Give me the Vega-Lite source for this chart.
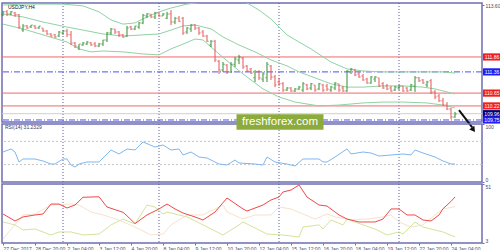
{
"$schema":"https://vega.github.io/schema/vega-lite/v6.json",
"background":"white",
"padding":{"left":0,"top":1,"right":0,"bottom":0},
"spacing":2,
"bounds":"flush",
"config":{"view":{"stroke":"#6e6eb4","strokeWidth":1.5},"font":"Liberation Sans",
 "axis":{"title":null,"grid":false,"domain":false,"tickSize":2,"tickColor":"#6e6eb4","labelFontSize":5,"labelColor":"#4a4a6a","labelPadding":1},
 "axisX":{"labelOverlap":false,"labelBound":false,"labelSeparation":0}},
"datasets":{
"one":[{"n":1}],
"bars":[
{"i":0,"o":113.27,"h":113.40,"l":113.23,"c":113.37},{"i":1,"o":113.37,"h":113.43,"l":113.23,"c":113.30},{"i":2,"o":113.30,"h":113.40,"l":113.26,"c":113.37},{"i":3,"o":113.33,"h":113.37,"l":113.20,"c":113.27},{"i":4,"o":113.27,"h":113.30,"l":112.80,"c":112.86},{"i":5,"o":112.76,"h":112.96,"l":112.70,"c":112.90},{"i":6,"o":112.90,"h":112.93,"l":112.80,"c":112.83},{"i":7,"o":112.86,"h":112.93,"l":112.83,"c":112.93},{"i":8,"o":112.90,"h":112.93,"l":112.80,"c":112.83},{"i":9,"o":112.83,"h":112.90,"l":112.80,"c":112.90},
{"i":10,"o":112.83,"h":112.83,"l":112.70,"c":112.73},{"i":11,"o":112.73,"h":112.76,"l":112.60,"c":112.63},{"i":12,"o":112.63,"h":112.66,"l":112.53,"c":112.56},{"i":13,"o":112.60,"h":112.63,"l":112.50,"c":112.53},{"i":14,"o":112.56,"h":112.73,"l":112.53,"c":112.70},{"i":15,"o":112.66,"h":112.76,"l":112.60,"c":112.73},{"i":16,"o":112.73,"h":112.80,"l":112.53,"c":112.60},{"i":17,"o":112.60,"h":112.73,"l":112.26,"c":112.33},{"i":18,"o":112.33,"h":112.36,"l":112.16,"c":112.23},{"i":19,"o":112.19,"h":112.29,"l":112.09,"c":112.29},
{"i":20,"o":112.26,"h":112.36,"l":112.23,"c":112.33},{"i":21,"o":112.29,"h":112.39,"l":112.26,"c":112.36},{"i":22,"o":112.33,"h":112.36,"l":112.23,"c":112.26},{"i":23,"o":112.29,"h":112.36,"l":112.19,"c":112.23},{"i":24,"o":112.23,"h":112.33,"l":112.19,"c":112.29},{"i":25,"o":112.29,"h":112.43,"l":112.23,"c":112.43},{"i":26,"o":112.43,"h":112.70,"l":112.36,"c":112.66},{"i":27,"o":112.66,"h":112.83,"l":112.60,"c":112.80},{"i":28,"o":112.80,"h":112.80,"l":112.63,"c":112.70},{"i":29,"o":112.70,"h":112.73,"l":112.53,"c":112.60},
{"i":30,"o":112.60,"h":112.63,"l":112.50,"c":112.53},{"i":31,"o":112.56,"h":112.90,"l":112.53,"c":112.83},{"i":32,"o":112.86,"h":112.90,"l":112.76,"c":112.80},{"i":33,"o":112.80,"h":112.90,"l":112.76,"c":112.90},{"i":34,"o":112.86,"h":113.03,"l":112.80,"c":113.00},{"i":35,"o":113.00,"h":113.30,"l":112.96,"c":113.26},{"i":36,"o":113.23,"h":113.33,"l":113.16,"c":113.30},{"i":37,"o":113.30,"h":113.30,"l":113.16,"c":113.20},{"i":38,"o":113.20,"h":113.37,"l":113.13,"c":113.33},{"i":39,"o":113.33,"h":113.33,"l":113.20,"c":113.23},
{"i":40,"o":113.23,"h":113.33,"l":113.23,"c":113.30},{"i":41,"o":113.16,"h":113.37,"l":113.13,"c":113.30},{"i":42,"o":113.30,"h":113.43,"l":112.93,"c":113.03},{"i":43,"o":113.03,"h":113.20,"l":112.96,"c":113.16},{"i":44,"o":113.16,"h":113.23,"l":113.03,"c":113.06},{"i":45,"o":113.16,"h":113.20,"l":112.60,"c":112.66},{"i":46,"o":112.70,"h":112.86,"l":112.63,"c":112.83},{"i":47,"o":112.80,"h":112.96,"l":112.70,"c":112.93},{"i":48,"o":112.93,"h":112.96,"l":112.76,"c":112.83},{"i":49,"o":112.83,"h":112.86,"l":112.60,"c":112.66},
{"i":50,"o":112.70,"h":112.76,"l":112.53,"c":112.56},{"i":51,"o":112.56,"h":112.60,"l":112.36,"c":112.39},{"i":52,"o":112.26,"h":112.43,"l":112.19,"c":112.39},{"i":53,"o":112.39,"h":112.43,"l":111.69,"c":111.76},{"i":54,"o":111.72,"h":111.76,"l":111.29,"c":111.42},{"i":55,"o":111.42,"h":111.69,"l":111.36,"c":111.62},{"i":56,"o":111.59,"h":111.62,"l":111.29,"c":111.36},{"i":57,"o":111.36,"h":111.69,"l":111.32,"c":111.62},{"i":58,"o":111.62,"h":111.86,"l":111.52,"c":111.79},{"i":59,"o":111.76,"h":111.93,"l":111.62,"c":111.86},
{"i":60,"o":111.82,"h":111.86,"l":111.46,"c":111.52},{"i":61,"o":111.56,"h":111.59,"l":111.36,"c":111.39},{"i":62,"o":111.46,"h":111.49,"l":111.29,"c":111.32},{"i":63,"o":111.16,"h":111.42,"l":111.02,"c":111.36},{"i":64,"o":111.36,"h":111.42,"l":111.09,"c":111.16},{"i":65,"o":111.12,"h":111.36,"l":111.02,"c":111.29},{"i":66,"o":111.16,"h":111.69,"l":111.02,"c":111.62},{"i":67,"o":111.56,"h":111.59,"l":111.09,"c":111.19},{"i":68,"o":111.19,"h":111.26,"l":110.85,"c":110.92},{"i":69,"o":111.02,"h":111.16,"l":110.89,"c":110.96},
{"i":70,"o":110.96,"h":111.02,"l":110.69,"c":110.75},{"i":71,"o":110.75,"h":110.85,"l":110.72,"c":110.82},{"i":72,"o":110.82,"h":110.85,"l":110.69,"c":110.72},{"i":73,"o":110.72,"h":110.82,"l":110.69,"c":110.79},{"i":74,"o":110.79,"h":110.89,"l":110.75,"c":110.85},{"i":75,"o":110.75,"h":111.02,"l":110.69,"c":110.96},{"i":76,"o":110.92,"h":110.96,"l":110.75,"c":110.79},{"i":77,"o":110.82,"h":110.99,"l":110.75,"c":110.96},{"i":78,"o":110.92,"h":110.92,"l":110.69,"c":110.75},{"i":79,"o":110.79,"h":110.99,"l":110.75,"c":110.96},
{"i":80,"o":110.92,"h":110.96,"l":110.69,"c":110.75},{"i":81,"o":110.89,"h":110.96,"l":110.72,"c":110.79},{"i":82,"o":110.75,"h":110.89,"l":110.69,"c":110.85},{"i":83,"o":110.82,"h":111.02,"l":110.75,"c":110.99},{"i":84,"o":110.96,"h":110.96,"l":110.69,"c":110.75},{"i":85,"o":110.82,"h":110.89,"l":110.69,"c":110.72},{"i":86,"o":110.72,"h":111.42,"l":110.69,"c":111.39},{"i":87,"o":111.36,"h":111.49,"l":111.29,"c":111.46},{"i":88,"o":111.42,"h":111.46,"l":111.22,"c":111.26},{"i":89,"o":111.29,"h":111.36,"l":111.16,"c":111.19},
{"i":90,"o":111.22,"h":111.29,"l":111.06,"c":111.09},{"i":91,"o":111.12,"h":111.16,"l":110.96,"c":110.99},{"i":92,"o":110.99,"h":111.22,"l":110.96,"c":111.19},{"i":93,"o":111.12,"h":111.22,"l":111.02,"c":111.19},{"i":94,"o":111.16,"h":111.16,"l":110.85,"c":110.89},{"i":95,"o":110.96,"h":111.02,"l":110.79,"c":110.82},{"i":96,"o":110.89,"h":110.96,"l":110.75,"c":110.79},{"i":97,"o":110.82,"h":110.89,"l":110.69,"c":110.72},{"i":98,"o":110.75,"h":110.89,"l":110.72,"c":110.85},{"i":99,"o":110.82,"h":110.92,"l":110.75,"c":110.89},
{"i":100,"o":110.89,"h":110.89,"l":110.69,"c":110.72},{"i":101,"o":110.82,"h":110.85,"l":110.69,"c":110.72},{"i":102,"o":110.75,"h":110.96,"l":110.72,"c":110.92},{"i":103,"o":110.89,"h":111.22,"l":110.69,"c":111.16},{"i":104,"o":111.16,"h":111.19,"l":111.02,"c":111.06},{"i":105,"o":111.09,"h":111.12,"l":110.96,"c":110.99},{"i":106,"o":110.92,"h":111.06,"l":110.85,"c":111.02},{"i":107,"o":111.06,"h":111.12,"l":110.62,"c":110.69},{"i":108,"o":110.69,"h":110.75,"l":110.45,"c":110.52},{"i":109,"o":110.55,"h":110.62,"l":110.35,"c":110.39},
{"i":110,"o":110.39,"h":110.49,"l":110.22,"c":110.25},{"i":111,"o":110.25,"h":110.35,"l":110.08,"c":110.12},{"i":112,"o":110.12,"h":110.15,"l":109.78,"c":109.85},{"i":113,"o":109.85,"h":110.02,"l":109.82,"c":109.95}
],
"bb":[
{"b":"up","i":0,"p":113.60},{"b":"up","i":5,"p":113.63},{"b":"up","i":10,"p":113.63},{"b":"up","i":15,"p":113.63},{"b":"up","i":20,"p":113.57},{"b":"up","i":24,"p":113.37},{"b":"up","i":27,"p":113.10},{"b":"up","i":30,"p":112.96},{"b":"up","i":33,"p":113.00},{"b":"up","i":36,"p":113.20},{"b":"up","i":39,"p":113.37},{"b":"up","i":42,"p":113.50},{"b":"up","i":46,"p":113.63},{"b":"up","i":50,"p":113.70},{"b":"up","i":53,"p":113.77},{"b":"up","i":56,"p":113.83},{"b":"up","i":59,"p":113.77},{"b":"up","i":61,"p":113.67},{"b":"up","i":64,"p":113.43},{"b":"up","i":67,"p":113.13},{"b":"up","i":71,"p":112.60},{"b":"up","i":74,"p":112.36},{"b":"up","i":77,"p":112.13},{"b":"up","i":82,"p":111.69},{"b":"up","i":86,"p":111.46},{"b":"up","i":90,"p":111.39},{"b":"up","i":95,"p":111.36},{"b":"up","i":100,"p":111.36},{"b":"up","i":105,"p":111.36},{"b":"up","i":110,"p":111.36},{"b":"up","i":113,"p":111.32},
{"b":"mid","i":0,"p":113.30},{"b":"mid","i":5,"p":113.20},{"b":"mid","i":10,"p":113.03},{"b":"mid","i":16,"p":112.86},{"b":"mid","i":20,"p":112.76},{"b":"mid","i":25,"p":112.63},{"b":"mid","i":30,"p":112.56},{"b":"mid","i":35,"p":112.60},{"b":"mid","i":39,"p":112.63},{"b":"mid","i":42,"p":112.76},{"b":"mid","i":45,"p":112.90},{"b":"mid","i":48,"p":112.93},{"b":"mid","i":52,"p":112.80},{"b":"mid","i":55,"p":112.53},{"b":"mid","i":59,"p":112.26},{"b":"mid","i":63,"p":112.03},{"b":"mid","i":67,"p":111.76},{"b":"mid","i":71,"p":111.56},{"b":"mid","i":74,"p":111.36},{"b":"mid","i":78,"p":111.16},{"b":"mid","i":82,"p":110.96},{"b":"mid","i":86,"p":110.85},{"b":"mid","i":90,"p":110.85},{"b":"mid","i":95,"p":110.89},{"b":"mid","i":100,"p":110.89},{"b":"mid","i":105,"p":110.85},{"b":"mid","i":108,"p":110.79},{"b":"mid","i":113,"p":110.62},
{"b":"lo","i":0,"p":112.96},{"b":"lo","i":5,"p":112.80},{"b":"lo","i":10,"p":112.60},{"b":"lo","i":16,"p":112.36},{"b":"lo","i":19,"p":112.13},{"b":"lo","i":22,"p":112.03},{"b":"lo","i":25,"p":112.06},{"b":"lo","i":30,"p":112.03},{"b":"lo","i":35,"p":111.96},{"b":"lo","i":39,"p":111.93},{"b":"lo","i":42,"p":112.13},{"b":"lo","i":45,"p":112.29},{"b":"lo","i":48,"p":112.46},{"b":"lo","i":50,"p":112.43},{"b":"lo","i":54,"p":111.96},{"b":"lo","i":57,"p":111.62},{"b":"lo","i":60,"p":111.29},{"b":"lo","i":65,"p":110.79},{"b":"lo","i":69,"p":110.52},{"b":"lo","i":73,"p":110.35},{"b":"lo","i":79,"p":110.22},{"b":"lo","i":84,"p":110.25},{"b":"lo","i":90,"p":110.32},{"b":"lo","i":95,"p":110.35},{"b":"lo","i":100,"p":110.35},{"b":"lo","i":106,"p":110.32},{"b":"lo","i":110,"p":110.25},{"b":"lo","i":113,"p":110.15}
],
"levels":[{"p":111.86,"k":"red"},{"p":111.36,"k":"blue"},{"p":110.65,"k":"red"},{"p":110.22,"k":"red"},{"p":109.96,"k":"bid"},{"p":109.75,"k":"blue"}],
"seps":[{"i":15},{"i":39},{"i":69},{"i":99}],
"arrow":[{"i":114.0,"p":110.08},{"i":117.3,"p":109.5}],
"arrowhead":[{"i":117.6,"p":109.42}],
"rsilev":[{"v":70},{"v":30}],
"rsi":[{"i":0,"v":51.7},{"i":2,"v":56.9},{"i":3,"v":51.7},{"i":4,"v":34.5},{"i":5,"v":39.7},{"i":8,"v":39.7},{"i":10,"v":36.2},{"i":12,"v":31.0},{"i":13,"v":31.0},{"i":15,"v":39.7},{"i":16,"v":39.7},{"i":17,"v":29.3},{"i":18,"v":25.9},{"i":19,"v":31.0},{"i":21,"v":34.5},{"i":24,"v":34.5},{"i":27,"v":55.2},{"i":29,"v":48.3},{"i":31,"v":56.9},{"i":33,"v":55.2},{"i":35,"v":69.0},{"i":38,"v":60.3},{"i":40,"v":63.8},{"i":42,"v":55.2},{"i":44,"v":56.9},{"i":45,"v":46.6},{"i":47,"v":51.7},{"i":49,"v":43.1},{"i":51,"v":41.4},{"i":52,"v":37.9},{"i":54,"v":31.0},{"i":56,"v":29.3},{"i":58,"v":37.9},{"i":59,"v":32.8},{"i":63,"v":31.0},{"i":65,"v":29.3},{"i":66,"v":43.1},{"i":68,"v":34.5},{"i":71,"v":31.0},{"i":73,"v":27.6},{"i":75,"v":39.7},{"i":79,"v":39.7},{"i":80,"v":34.5},{"i":81,"v":34.5},{"i":83,"v":43.1},{"i":86,"v":56.9},{"i":87,"v":48.3},{"i":90,"v":51.7},{"i":92,"v":50.0},{"i":94,"v":44.8},{"i":97,"v":46.6},{"i":100,"v":48.3},{"i":102,"v":46.6},{"i":103,"v":55.2},{"i":105,"v":50.0},{"i":108,"v":43.1},{"i":110,"v":36.2},{"i":112,"v":31.0},{"i":113,"v":31.2}],
"adx":[{"i":0,"v":26.6},{"i":3,"v":20.9},{"i":5,"v":24.2},{"i":8,"v":25.8},{"i":10,"v":26.6},{"i":12,"v":34.7},{"i":14,"v":34.7},{"i":16,"v":31.5},{"i":18,"v":33.9},{"i":20,"v":40.2},{"i":24,"v":40.6},{"i":26,"v":32.3},{"i":30,"v":28.0},{"i":31,"v":25.1},{"i":33,"v":18.8},{"i":36,"v":25.8},{"i":39,"v":30.7},{"i":41,"v":34.7},{"i":43,"v":30.7},{"i":45,"v":27.4},{"i":48,"v":24.2},{"i":50,"v":21.7},{"i":53,"v":28.2},{"i":56,"v":39.6},{"i":60,"v":30.7},{"i":61,"v":29.0},{"i":65,"v":33.9},{"i":67,"v":38.0},{"i":69,"v":40.4},{"i":70,"v":44.5},{"i":72,"v":46.1},{"i":74,"v":50.2},{"i":76,"v":40.4},{"i":79,"v":33.9},{"i":81,"v":33.1},{"i":84,"v":25.8},{"i":86,"v":22.5},{"i":89,"v":20.1},{"i":93,"v":20.1},{"i":95,"v":22.5},{"i":97,"v":30.7},{"i":99,"v":30.7},{"i":101,"v":25.8},{"i":103,"v":25.8},{"i":105,"v":21.7},{"i":107,"v":20.9},{"i":109,"v":25.8},{"i":110,"v":30.9},{"i":112,"v":36.8},{"i":113,"v":40.48}],
"pdi":[{"i":0,"v":20.1},{"i":3,"v":17.7},{"i":5,"v":13.6},{"i":8,"v":14.4},{"i":12,"v":9.5},{"i":14,"v":12.0},{"i":17,"v":12.0},{"i":20,"v":9.5},{"i":24,"v":10.3},{"i":27,"v":17.7},{"i":30,"v":22.5},{"i":33,"v":18.5},{"i":36,"v":33.9},{"i":38,"v":32.3},{"i":40,"v":26.6},{"i":41,"v":28.2},{"i":46,"v":24.2},{"i":50,"v":17.7},{"i":55,"v":9.5},{"i":59,"v":17.7},{"i":60,"v":20.1},{"i":64,"v":13.6},{"i":66,"v":10.3},{"i":70,"v":9.5},{"i":74,"v":7.9},{"i":75,"v":16.0},{"i":79,"v":17.7},{"i":80,"v":14.4},{"i":82,"v":21.7},{"i":85,"v":17.7},{"i":86,"v":22.5},{"i":90,"v":17.7},{"i":93,"v":14.4},{"i":96,"v":9.5},{"i":99,"v":12.0},{"i":100,"v":10.3},{"i":103,"v":20.1},{"i":105,"v":16.0},{"i":107,"v":14.4},{"i":110,"v":12.0},{"i":113,"v":7.9}],
"mdi":[{"i":0,"v":6.3},{"i":5,"v":25.8},{"i":8,"v":26.6},{"i":12,"v":33.9},{"i":17,"v":34.7},{"i":19,"v":33.9},{"i":22,"v":28.2},{"i":25,"v":25.8},{"i":29,"v":21.7},{"i":33,"v":16.0},{"i":37,"v":9.5},{"i":40,"v":10.3},{"i":42,"v":17.7},{"i":46,"v":25.8},{"i":50,"v":25.8},{"i":55,"v":33.9},{"i":56,"v":28.2},{"i":60,"v":22.5},{"i":63,"v":25.8},{"i":67,"v":25.8},{"i":69,"v":32.3},{"i":72,"v":30.7},{"i":75,"v":26.6},{"i":78,"v":22.5},{"i":81,"v":26.6},{"i":83,"v":24.2},{"i":87,"v":21.7},{"i":91,"v":22.5},{"i":95,"v":24.2},{"i":97,"v":25.8},{"i":99,"v":20.1},{"i":102,"v":16.0},{"i":105,"v":17.7},{"i":108,"v":25.8},{"i":110,"v":30.7},{"i":113,"v":32.5}]
},
"vconcat":[
{"width":480,"height":119,
 "layer":[
  {"data":{"name":"seps"},"mark":{"type":"rule","color":"#5c5ca8","strokeDash":[1,2],"strokeWidth":1},
   "encoding":{"x":{"field":"i","type":"quantitative","scale":{"domain":[-0.25,119.75],"nice":false,"zero":false},"axis":null}}},
  {"data":{"name":"levels"},"mark":{"type":"rule","strokeWidth":1},
   "encoding":{"y":{"field":"p","type":"quantitative","scale":{"domain":[109.682,113.667],"nice":false,"zero":false},
     "axis":{"orient":"right","values":[113.6,113.05,112.5,111.95,111.4,110.85,110.3,109.75],"format":".2f"}},
    "color":{"condition":[{"test":"datum.k==='red'","value":"#f06a6a"},{"test":"datum.k==='blue'","value":"#5050f0"}],"value":"#d0d0d0"},
    "strokeDash":{"condition":{"test":"datum.k==='blue'","value":[6,2,1,2]},"value":[1,0]}}},
  {"data":{"name":"bb"},"mark":{"type":"line","color":"#8fd3a4","strokeWidth":1,"clip":true},
   "encoding":{"x":{"field":"i","type":"quantitative","axis":null},
    "y":{"field":"p","type":"quantitative"},
    "detail":{"field":"b"}}},
  {"data":{"name":"bars"},"mark":{"type":"rule","strokeWidth":1},
   "encoding":{"x":{"field":"i","type":"quantitative","axis":null},
    "y":{"field":"l","type":"quantitative"},
    "y2":{"field":"h"},
    "color":{"condition":{"test":"datum.c>=datum.o","value":"#2f8f2f"},"value":"#e35555"}}},
  {"data":{"name":"bars"},"mark":{"type":"tick","orient":"horizontal","size":1.5,"thickness":1,"xOffset":-1},
   "encoding":{"x":{"field":"i","type":"quantitative","axis":null},
    "y":{"field":"o","type":"quantitative"},
    "color":{"condition":{"test":"datum.c>=datum.o","value":"#2f8f2f"},"value":"#e35555"}}},
  {"data":{"name":"bars"},"mark":{"type":"tick","orient":"horizontal","size":1.5,"thickness":1,"xOffset":1},
   "encoding":{"x":{"field":"i","type":"quantitative","axis":null},
    "y":{"field":"c","type":"quantitative"},
    "color":{"condition":{"test":"datum.c>=datum.o","value":"#2f8f2f"},"value":"#e35555"}}},
  {"data":{"name":"levels"},"mark":{"type":"point","shape":"M-1,-0.4H1V0.4H-1Z","size":324,"filled":true,"opacity":1},
   "encoding":{"x":{"datum":122.25,"type":"quantitative","axis":null},
    "y":{"field":"p","type":"quantitative"},
    "color":{"condition":[{"test":"datum.k==='red'","value":"#f01e1e"},{"test":"datum.k==='blue'","value":"#1e1ef5"}],"value":"#00007a"}}},
  {"data":{"name":"levels"},"mark":{"type":"text","fontSize":5,"color":"white","align":"center","baseline":"middle"},
   "encoding":{"x":{"datum":122.25,"type":"quantitative","axis":null},
    "y":{"field":"p","type":"quantitative"},
    "text":{"field":"p","type":"quantitative","format":".2f"}}},
  {"data":{"name":"one"},"mark":{"type":"text","fontSize":5,"color":"#111111","align":"left","baseline":"middle","text":"USDJPY,H4"},
   "encoding":{"x":{"datum":1.25,"type":"quantitative","axis":null},
    "y":{"datum":113.53,"type":"quantitative"}}},
  {"data":{"name":"arrow"},"mark":{"type":"line","color":"#111111","strokeWidth":2,"clip":false},
   "encoding":{"x":{"field":"i","type":"quantitative","axis":null},
    "y":{"field":"p","type":"quantitative"}}},
  {"data":{"name":"arrowhead"},"mark":{"type":"point","shape":"triangle-down","size":40,"filled":true,"color":"#111111","angle":324,"opacity":1},
   "encoding":{"x":{"field":"i","type":"quantitative","axis":null},
    "y":{"field":"p","type":"quantitative"}}}
 ]},
{"width":480,"height":58,
 "layer":[
  {"data":{"name":"seps"},"mark":{"type":"rule","color":"#5c5ca8","strokeDash":[1,2],"strokeWidth":1},
   "encoding":{"x":{"field":"i","type":"quantitative","scale":{"domain":[-0.25,119.75],"nice":false,"zero":false},"axis":null}}},
  {"data":{"name":"rsilev"},"mark":{"type":"rule","color":"#c4c4c4","strokeDash":[2,2],"strokeWidth":1},
   "encoding":{"y":{"field":"v","type":"quantitative","scale":{"domain":[0,100],"nice":false},
     "axis":{"orient":"right","values":[100,70,30,0],"labelFlush":true}}}},
  {"data":{"name":"rsi"},"mark":{"type":"line","strokeWidth":1},
   "encoding":{"x":{"field":"i","type":"quantitative","axis":null},
    "y":{"field":"v","type":"quantitative"},"color":{"value":"#7fb7ee"}}},
  {"data":{"name":"one"},"mark":{"type":"text","fontSize":5,"color":"#3a3a5a","align":"left","baseline":"middle","text":"RSI(14) 31.2329"},
   "encoding":{"x":{"datum":0.5,"type":"quantitative","axis":null},
    "y":{"datum":94.8,"type":"quantitative"}}},
  {"data":{"name":"one"},"mark":{"type":"point","shape":"M-1,-0.18H1V0.18H-1Z","size":7569,"filled":true,"color":"#8cab3b","opacity":1},
   "encoding":{"x":{"datum":69.25,"type":"quantitative","axis":null},
    "y":{"datum":103.4,"type":"quantitative"}}},
  {"data":{"name":"one"},"mark":{"type":"text","fontSize":11.5,"color":"white","align":"center","baseline":"middle","text":"freshforex.com"},
   "encoding":{"x":{"datum":69.25,"type":"quantitative","axis":null},
    "y":{"datum":103.4,"type":"quantitative"}}}
 ]},
{"width":480,"height":59,
 "encoding":{"x":{"field":"i","type":"quantitative","scale":{"domain":[-0.25,119.75],"nice":false,"zero":false},
     "axis":{"orient":"bottom","values":[0,8,16,24,32,40,48,56,64,72,80,88,96,104,112],
      "labelExpr":"['27 Dec 2017','28 Dec 20:00','2 Jan 04:00','3 Jan 12:00','4 Jan 20:00','8 Jan 04:00','9 Jan 12:00','10 Jan 20:00','12 Jan 04:00','15 Jan 12:00','16 Jan 20:00','18 Jan 04:00','19 Jan 12:00','22 Jan 20:00','24 Jan 04:00'][round(datum.value/8)]",
      "labelAlign":"left","labelFlush":false,"labelOverlap":false,"labelBound":false,"labelSeparation":0}},
   "y":{"field":"v","type":"quantitative","scale":{"domain":[3,51],"nice":false,"zero":false},
     "axis":{"orient":"right","values":[51,3],"labelFlush":true}}},
 "layer":[
  {"data":{"name":"seps"},"mark":{"type":"rule","color":"#5c5ca8","strokeDash":[1,2],"strokeWidth":1},
   "encoding":{"y":null}},
  {"data":{"name":"pdi"},"mark":{"type":"line","strokeWidth":0.8,"color":"#c6dd80","strokeCap":"butt","strokeJoin":"round"}},
  {"data":{"name":"mdi"},"mark":{"type":"line","strokeWidth":0.8,"color":"#f5d9c0","strokeCap":"butt","strokeJoin":"round"}},
  {"data":{"name":"adx"},"mark":{"type":"line","strokeWidth":1,"color":"#f04848","strokeCap":"butt","strokeJoin":"round"}},
  {"data":{"name":"one"},"mark":{"type":"text","fontSize":5,"color":"#3a3a5a","align":"left","baseline":"middle","text":"ADX(14) 40.4812 +DI16.2962 -DI32.4984"},
   "encoding":{"x":{"datum":0.5,"type":"quantitative"},
    "y":{"datum":48.6,"type":"quantitative"}}}
 ]}
]
}
